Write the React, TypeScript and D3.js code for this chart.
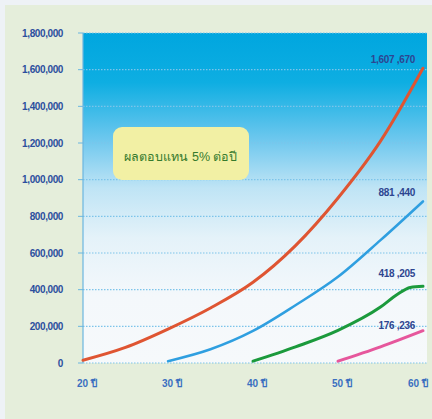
import * as d3 from "d3";

const yTicks = [0, 200000, 400000, 600000, 800000, 1000000, 1200000, 1400000, 1600000, 1800000];
const xTicks = [20, 30, 40, 50, 60];
const xTickLabels = ["20 ปี", "30 ปี", "40 ปี", "50 ปี", "60 ปี"];

const redAges = [20, 25, 30, 35, 40, 45, 50, 55, 60];
const redValues = [15000, 85000, 185000, 300000, 440000, 640000, 900000, 1210000, 1607670];
const blueAges = [30, 35, 40, 45, 50, 55, 60];
const blueValues = [10000, 75000, 175000, 315000, 470000, 670000, 881440];
const greenAges = [40, 45, 50, 55, 57, 58.5, 60];
const greenValues = [10000, 88000, 178000, 305000, 375000, 412000, 418205];
const pinkAges = [50, 55, 60];
const pinkValues = [10000, 88000, 176236];

const endLabels = ["1,607 ,670", "881 ,440", "418 ,205", "176 ,236"];
const boxText = "ผลตอบแทน 5% ต่อปี";

const W = 432;
const H = 419;
const left = 83;
const right = 423;
const top = 33;
const bottom = 363;

export default function App() {
  const x = d3.scaleLinear().domain([20, 60]).range([left, right]);
  const y = d3.scaleLinear().domain([0, 1800000]).range([bottom, top]);
  const fmt = d3.format(",");

  const line = d3
    .line<[number, number]>()
    .x((d) => x(d[0]))
    .y((d) => y(d[1]))
    .curve(d3.curveMonotoneX);

  const series = [
    { ages: redAges, values: redValues, color: "#df5532", width: 3 },
    { ages: blueAges, values: blueValues, color: "#2f9fe0", width: 2.5 },
    { ages: greenAges, values: greenValues, color: "#1b9a3c", width: 3 },
    { ages: pinkAges, values: pinkValues, color: "#e6579c", width: 3 },
  ];

  // end labels sit right-aligned just above each line end
  const labelOffsets = [-5, -5, -9, -2];

  return (
    <svg
      width={W}
      height={H}
      style={{ position: "absolute", left: 0, top: 0, fontFamily: "'Liberation Sans', Arial, sans-serif" }}
    >
      <defs>
        <linearGradient id="bg" x1="0" y1="0" x2="0" y2="1">
          <stop offset="0" stopColor="#00a6df" />
          <stop offset="0.15" stopColor="#0eaee2" />
          <stop offset="0.32" stopColor="#6cc7ee" />
          <stop offset="0.47" stopColor="#bfe4f5" />
          <stop offset="0.62" stopColor="#e4f2f9" />
          <stop offset="0.8" stopColor="#f4f8fb" />
          <stop offset="1" stopColor="#f6f9fb" />
        </linearGradient>
      </defs>
      <rect x={0} y={0} width={W} height={H} fill="#eef2f6" />
      <rect x={5} y={5} width={W - 5} height={H - 5} fill="#e5eedb" />
      <rect x={left} y={top} width={right - left + 4} height={bottom - top} fill="url(#bg)" />

      {yTicks.map((t) => (
        <g key={t}>
          <line
            x1={left}
            x2={right + 4}
            y1={y(t)}
            y2={y(t)}
            stroke="#7cc4ea"
            strokeWidth={1.2}
            strokeDasharray="1.5 1.5"
          />
          <line x1={left - 5} x2={left} y1={y(t)} y2={y(t)} stroke="#6ab6e0" strokeWidth={1} />
          <text
            x={63}
            y={y(t)}
            dy="0.35em"
            textAnchor="end"
            fontSize={10}
            fontWeight="bold"
            fill="#2c4f9e"
            letterSpacing={-0.4}
          >
            {fmt(t)}
          </text>
        </g>
      ))}
      <line x1={left} x2={left} y1={top} y2={bottom} stroke="#6ab6e0" strokeWidth={1.2} />

      {xTicks.map((t, i) => (
        <text
          key={t}
          x={Math.min(x(t) + 4, 418)}
          y={387}
          textAnchor="middle"
          fontSize={10}
          fontWeight="bold"
          fill="#3a6fc0"
        >
          {xTickLabels[i]}
        </text>
      ))}

      <rect x={113} y={127} width={136} height={53} rx={9} fill="#f2f0a4" />
      <text x={181} y={161} textAnchor="middle" fontSize={12.5} fill="#357a2c">
        {boxText}
      </text>

      {series.map((s, i) => (
        <path
          key={i}
          d={line(s.ages.map((a, j) => [a, s.values[j]] as [number, number])) || ""}
          fill="none"
          stroke={s.color}
          strokeWidth={s.width}
          strokeLinecap="round"
        />
      ))}

      {series.map((s, i) => {
        const n = s.values.length - 1;
        return (
          <text
            key={i}
            x={415}
            y={y(s.values[n]) + labelOffsets[i]}
            textAnchor="end"
            fontSize={10}
            fontWeight="bold"
            fill="#2d4590"
            letterSpacing={-0.3}
          >
            {endLabels[i]}
          </text>
        );
      })}
    </svg>
  );
}
